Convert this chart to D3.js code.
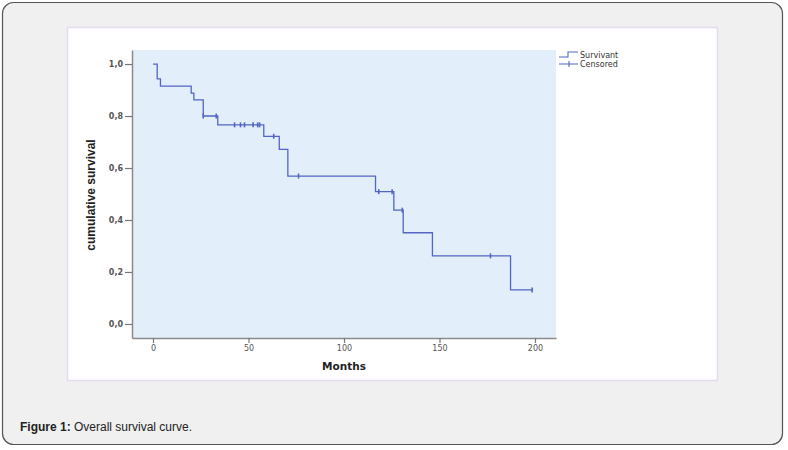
<!DOCTYPE html>
<html><head><meta charset="utf-8">
<script src="https://cdn.jsdelivr.net/npm/d3@7"></script>
<style>
html,body{margin:0;padding:0;background:#fff;}
svg{display:block;}
</style>
</head><body>
<svg id="c" width="788" height="450"></svg>
<script>
// ---- data ----
const stepTimes = [0, 2.2, 3.9, 20.0, 21.4, 26.3, 33.9, 58.0, 66.1, 70.6, 116.5, 126.1, 131.0, 146.3, 187.2];
const stepSurv  = [1.0, 0.943, 0.915, 0.888, 0.862, 0.800, 0.766, 0.722, 0.672, 0.569, 0.509, 0.438, 0.351, 0.262, 0.131];
const censorTimes = [26.3, 33.1, 42.7, 45.8, 47.9, 52.4, 54.8, 55.8, 63.2, 76.2, 118.2, 125.2, 130.5, 176.7, 198.5];
const endTime = 198.5;
const xTicks = [0, 50, 100, 150, 200];
const yTicks = [0, 0.2, 0.4, 0.6, 0.8, 1.0];
const legendLabels = ["Survivant", "Censored"];

const svg = d3.select("#c");
const lineColor = "#5366c4";

// outer card
svg.append("rect").attr("x",2.5).attr("y",2.5).attr("width",780).attr("height",442)
  .attr("rx",11).attr("fill","#f0f0f0").attr("stroke","#555").attr("stroke-width",1.2);
// inner white panel
svg.append("rect").attr("x",67.5).attr("y",27.5).attr("width",650).attr("height",353)
  .attr("fill","#fff").attr("stroke","#e4dcef").attr("stroke-width",1.5);

// plot area
const L = 132, R = 556, T = 50, B = 338;
const x = d3.scaleLinear().domain([-11, 211]).range([L, R]);
const y = d3.scaleLinear().domain([-0.054, 1.054]).range([B, T]);

svg.append("rect").attr("x",L).attr("y",T).attr("width",R-L).attr("height",B-T).attr("fill","#e3eefb");

// axes
const yAxis = d3.axisLeft(y).tickValues(yTicks).tickSize(7).tickSizeOuter(0)
  .tickFormat(d => d.toFixed(1).replace(".", ","));
const gy = svg.append("g").attr("transform",`translate(${L},0)`).call(yAxis);
gy.select(".domain").attr("stroke","#8a8a8a").attr("stroke-width",1.5);
gy.selectAll(".tick line").attr("stroke","#777").attr("stroke-width",1.2);
gy.selectAll(".tick text").attr("fill","#555").attr("font-family","DejaVu Sans, sans-serif")
  .attr("font-size",8).attr("font-weight","bold").attr("x",-9);

const xAxis = d3.axisBottom(x).tickValues(xTicks).tickSize(5).tickSizeOuter(0);
const gx = svg.append("g").attr("transform",`translate(0,${B})`).call(xAxis);
gx.select(".domain").attr("stroke","#8a8a8a").attr("stroke-width",1.5);
gx.selectAll(".tick line").attr("stroke","#777").attr("stroke-width",1.2);
gx.selectAll(".tick text").attr("fill","#555").attr("font-family","DejaVu Sans, sans-serif")
  .attr("font-size",8).attr("y",7);

// axis titles
svg.append("text").attr("transform",`translate(95,${195}) rotate(-90)`).attr("text-anchor","middle")
  .attr("font-family","Liberation Sans Narrow, Arial Narrow, sans-serif").attr("font-weight","bold")
  .attr("font-size",12).attr("fill","#222").text("cumulative survival");
svg.append("text").attr("x",x(100)).attr("y",370).attr("text-anchor","middle")
  .attr("font-family","DejaVu Sans, sans-serif").attr("font-weight","bold")
  .attr("font-size",10.5).attr("fill","#222").text("Months");

// survival step curve
const pts = [];
stepTimes.forEach((t,i) => {
  if (i > 0) pts.push([t, stepSurv[i-1]]);
  pts.push([t, stepSurv[i]]);
});
pts.push([endTime, stepSurv[stepSurv.length-1]]);
const line = d3.line().x(d => x(d[0])).y(d => y(d[1]));
svg.append("path").attr("d", line(pts)).attr("fill","none").attr("stroke",lineColor).attr("stroke-width",1.3);

function survAt(t){
  let s = stepSurv[0];
  for (let i=0;i<stepTimes.length;i++) if (stepTimes[i] <= t) s = stepSurv[i];
  return s;
}
svg.append("g").selectAll("line").data(censorTimes).join("line")
  .attr("x1", d => x(d)).attr("x2", d => x(d))
  .attr("y1", d => y(survAt(d)) - 2.5).attr("y2", d => y(survAt(d)) + 2.5)
  .attr("stroke", lineColor).attr("stroke-width",1.6);

// legend
const lg = svg.append("g");
const lx = 559, ly1 = 55, ly2 = 64;
lg.append("path").attr("d",`M${lx},${ly1+2}H${lx+9}V${ly1-3}H${lx+19}`)
  .attr("fill","none").attr("stroke",lineColor).attr("stroke-width",1.1);
lg.append("path").attr("d",`M${lx},${ly2}H${lx+19}M${lx+10},${ly2-3}V${ly2+3}`)
  .attr("fill","none").attr("stroke",lineColor).attr("stroke-width",1.1);
lg.selectAll("text").data(legendLabels).join("text")
  .attr("x", lx+21).attr("y",(d,i) => (i ? ly2 : ly1) + 3)
  .attr("font-family","DejaVu Sans, sans-serif").attr("font-size",8).attr("fill","#333")
  .text(d => d);

// caption
const cap = svg.append("text").attr("x",20).attr("y",431)
  .attr("font-family","Liberation Sans Narrow, Arial Narrow, sans-serif").attr("font-size",12).attr("fill","#222");
cap.append("tspan").attr("font-weight","bold").text("Figure 1:");
cap.append("tspan").text(" Overall survival curve.");
</script>
</body></html>
